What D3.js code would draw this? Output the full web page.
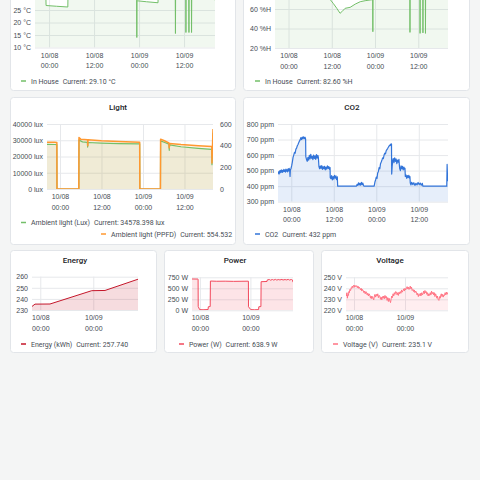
<!DOCTYPE html>
<html>
<head>
<meta charset="utf-8">
<script src="https://cdn.jsdelivr.net/npm/d3@7"></script>
<style>
  html, body { margin: 0; padding: 0; background: #f4f5f5; }
  svg { display: block; font-family: Roboto, "Noto Sans", sans-serif; }
</style>
</head>
<body>
<svg id="chart" width="480" height="480"></svg>
<script>
// all times are hours counted from 10/08 00:00
const temperature = [[-3.75,31.6],[-2.5,31.2],[-0.85,30.5],[-0.8,26.8],[2.0,26.5],[5.0,26.2],[5.05,31.5],[8,32.6],[12,33.2],[16,32.4],[20,31.2],[23.35,30.4],[23.4,14.0],[23.45,28.7],[26,28.3],[29.05,27.9],[29.1,31.0],[33.65,31.8],[33.7,15.6],[33.75,31.8],[36.45,31.5],[36.5,16.0],[36.55,31.5],[37.25,31.3],[37.3,16.0],[37.35,31.3],[37.95,31.0],[38.0,16.0],[38.05,31.0],[41,30.2],[44.25,29.1]];

const humidity = [[-3.75,84],[0,86],[4,88],[8,85],[11,76],[11.5,70],[12.4,65.8],[13.4,60.7],[14.3,55.6],[14.8,57.2],[15.7,60.7],[17.1,61.7],[18.5,65],[19.9,67.5],[21.25,68.5],[23.1,69.5],[23.35,70],[23.4,36.7],[23.45,76],[27,82],[30,84],[33.65,83],[33.7,36],[33.75,83],[36.45,84],[36.5,35],[36.55,84],[37.25,84],[37.3,35.5],[37.35,84],[37.95,84],[38.0,35],[38.05,84],[41,83],[44.25,82.6]];

const lux = [[-3.75,27500],[-1.5,27400],[-0.9,27300],[-0.86,0],[5.45,0],[5.5,30200],[6.5,29000],[7.9,28700],[8.0,25800],[8.1,28600],[12,28200],[17,27900],[23.05,27800],[23.1,0],[29.05,0],[29.1,29600],[30.5,28500],[31.5,27600],[31.6,23800],[31.7,27200],[35,26000],[40,25000],[43.9,24400],[43.95,15000],[44.25,34578.398]];

const ppfd = [[-3.75,432],[-1.5,431],[-0.9,430],[-0.86,0],[5.45,0],[5.5,475],[6.0,460],[8.0,455],[8.05,400],[8.1,455],[12,445],[17,438],[23.05,432],[23.1,0],[29.05,0],[29.1,460],[30.2,445],[31.5,425],[31.6,380],[31.7,420],[35,410],[40,400],[43.9,392],[43.95,240],[44.25,554.532]];

const co2 = [[-3.75,480],[-3.6,492],[-3.45,478],[-3.3,498],[-3.15,486],[-3.0,502],[-2.85,490],[-2.7,505],[-2.55,488],[-2.4,500],[-2.25,493],[-2.1,508],[-1.95,495],[-1.8,503],[-1.65,490],[-1.5,510],[-1.35,497],[-1.2,505],[-1.05,492],[-0.9,512],[-0.75,498],[-0.6,515],[-0.45,500],[-0.35,462],[-0.25,505],[-0.1,512],
  [0.1,530],[0.3,555],[0.5,585],[0.7,600],[0.9,618],[1.1,612],[1.3,638],[1.5,645],[1.7,660],[1.9,668],[2.1,680],[2.3,690],[2.5,698],[2.7,712],[2.9,700],[3.1,716],[3.3,705],[3.5,718],[3.7,706],[3.9,714],[4.05,702],
  [4.1,590],[4.3,572],[4.5,560],[4.7,585],[4.9,568],[5.1,598],[5.3,575],[5.5,605],[5.7,580],[5.9,592],[6.1,570],[6.3,600],[6.5,578],[6.7,595],[6.9,572],[7.1,603],[7.3,580],[7.5,598],[7.65,585],
  [7.8,528],[8.0,512],[8.2,530],[8.4,515],[8.6,532],[8.8,508],[9.0,525],[9.2,512],[9.4,528],[9.6,505],[9.8,522],[10.0,510],[10.2,530],[10.4,514],[10.6,526],[10.8,508],[10.95,520],
  [11.0,455],[11.2,448],[11.4,468],[11.6,440],[11.8,462],[12.0,445],[12.2,470],[12.4,452],[12.6,466],[12.8,442],[13.0,460],
  [13.1,400],[18.4,400],[18.6,412],[18.8,405],[19.0,422],[19.2,408],[19.4,418],[19.6,406],[19.8,425],[20.0,410],[20.2,420],[20.4,404],[20.55,400],[23.4,400],
  [23.6,425],[23.8,440],[24.0,458],[24.2,450],[24.4,485],[24.6,495],[24.8,520],[25.0,512],[25.2,545],[25.4,555],[25.6,568],[25.8,582],[26.0,578],[26.2,600],[26.4,612],[26.6,608],[26.8,628],[27.0,635],[27.2,642],[27.4,650],[27.6,658],[27.8,662],[28.0,670],[28.2,660],[28.3,672],
  [28.35,478],[28.5,530],[28.65,565],[28.8,578],[29.0,552],[29.2,582],[29.4,560],[29.6,575],[29.8,545],[30.0,568],[30.2,555],[30.4,572],[30.5,540],
  [30.6,515],[30.8,500],[31.0,530],[31.2,512],[31.4,528],[31.6,505],[31.8,522],[32.0,508],[32.1,515],
  [32.2,462],[32.4,472],[32.6,450],[32.8,468],[33.0,455],[33.2,470],[33.4,452],[33.5,462],
  [33.6,420],[33.8,408],[34.0,425],[34.3,410],[34.6,422],[34.9,405],[35.2,418],[35.5,408],[35.8,424],[36.1,410],[36.4,420],[36.7,406],[37.0,418],[37.15,400],
  [43.9,400],[44.0,540],[44.1,470],[44.25,432]];

const energy = [[-3.75,233.2],[-2.4,235.3],[4.4,235.4],[23.3,247.4],[29.3,247.6],[44.25,257.74]];

const power = [[-3.75,712],[-1.0,710],[-0.85,705],[-0.8,85],[-0.1,15],[1.5,12],[3.9,18],[4.0,80],[4.9,85],[5.0,665],[8,660],[12,662],[16,658],[20,660],[23.05,662],[23.1,80],[24.2,15],[26,12],[27.9,16],[28.0,80],[29.0,85],[29.1,650],[31.9,655],[32.0,690],[33,700],[33.5,685],[34.5,700],[35,688],[36,702],[36.5,688],[37.5,700],[38,690],[39,702],[39.5,688],[40.5,700],[41,690],[42,702],[42.5,688],[43.5,700],[44.0,690],[44.25,638.9]];

const voltage = [[-3.75,235.5],[-3.5,233],[-3.3,236],[-3.1,231],[-2.9,234],[-2.6,233.5],[-2.4,237],[-2.2,236],[-1.9,239],[-1.6,238],[-1.3,240.5],[-1.1,240],[-0.8,242],[-0.5,240.5],[-0.3,241.5],[0.0,243],[0.3,241],[0.6,242.5],[0.9,241.5],[1.25,242.4],[1.6,240.5],[1.9,242],[2.2,240],[2.5,241],[2.8,240],[3.1,238.5],[3.4,240],[3.7,237.5],[4.0,239],[4.35,238],[4.7,236],[5.0,237.5],[5.3,235],[5.6,237],[5.9,236.5],[6.2,234],[6.5,235.5],[6.8,233],[7.1,235],[7.5,233.5],[7.8,231],[8.1,233],[8.4,230.5],[8.7,232.5],[9.0,231],[9.3,229.5],[9.6,233],[9.9,234.5],[10.2,232],[10.6,234.5],[10.9,233],[11.2,235],[11.5,231.5],[11.9,233.5],[12.2,232.5],[12.5,230],[12.8,232],[13.1,229.5],[13.4,232.5],[13.7,231],[14.0,233],[14.3,230.5],[14.6,233.5],[15.0,231],[15.3,232.5],[15.6,229],[15.9,231.5],[16.2,228],[16.5,231],[16.9,228.5],[17.2,227],[17.5,230.5],[17.8,233],[18.1,231.5],[18.4,235],[18.7,233],[19.0,236],[19.3,234.5],[19.6,237],[20.0,236.5],[20.3,234],[20.6,236],[20.9,233.5],[21.2,236.5],[21.5,235],[21.8,237],[22.1,235.5],[22.4,238.5],[22.7,236.5],[23.1,238],[23.4,239.5],[23.7,237.5],[24.0,240],[24.3,238.5],[24.7,240],[25.0,241.5],[25.3,239.5],[25.6,241],[25.9,239],[26.2,240.5],[26.5,242],[26.8,239.5],[27.1,241],[27.4,238],[27.8,239],[28.1,237],[28.4,238.5],[28.7,236],[29.0,237.5],[29.4,236.5],[29.7,234],[30.0,235.5],[30.3,232.5],[30.6,234.5],[30.9,233.5],[31.2,235.5],[31.5,233],[31.9,236],[32.2,234],[32.5,235],[32.8,237.5],[33.1,235],[33.4,238],[33.7,236],[34.0,237],[34.3,234.5],[34.6,236],[34.9,233],[35.2,235],[35.6,233.5],[35.9,236],[36.2,234],[36.5,237.5],[36.8,235],[37.2,236.5],[37.5,234],[37.8,236],[38.1,232.5],[38.4,235],[38.7,233.5],[39.0,231],[39.3,233],[39.6,230],[39.95,229],[40.3,232.5],[40.6,231],[40.9,234],[41.1,235],[41.4,232.5],[41.7,234.5],[42.0,232],[42.3,234],[42.6,233.5],[42.9,236],[43.2,234],[43.5,236.5],[43.8,234.5],[44.0,236],[44.25,235.1]];

const tempTicks = [10, 15, 20, 25, 30, 35, 40];
const humidityTicks = [20, 40, 60, 80, 100];
const luxTicks = [0, 10000, 20000, 30000, 40000];
const ppfdTicks = [0, 200, 400, 600];
const co2Ticks = [300, 400, 500, 600, 700, 800];
const energyTicks = [230, 240, 250, 260];
const powerTicks = [0, 250, 500, 750];
const voltageTicks = [220, 230, 240, 250];

const GRID = "#e6e8eb", TEXT = "#464c54";
const svg = d3.select("#chart");
const t0 = new Date(2020, 9, 8, 0, 0);
const toDate = h => new Date(t0.getTime() + h * 3600e3);
const timeDomain = [toDate(-3.75), toDate(44.25)];
const fmtDay = d3.timeFormat("%m/%d"), fmtHour = d3.timeFormat("%H:%M");

svg.append("rect").attr("width", 480).attr("height", 480).attr("fill", "#f4f5f5");

// the page is scrolled: the top row starts above the window
const panels = [
  {title: "Temperature", titleX: 120, box: [10, -57, 236, 91], plot: [35, -27.5, 215, 47.5],
   yDomain: [10, 40], yTicks: tempTicks, yFmt: d => d + " °C", xEvery: 12,
   series: [{data: temperature, color: "#73BF69", fill: 0.1, width: 1}],
   legend: [{x: 21, y: 81, color: "#73BF69", name: "In House", value: "29.10 °C"}]},
  {title: "Humidity", titleX: 352, box: [243, -57, 470, 91], plot: [275, -30, 448, 48],
   yDomain: [20, 100], yTicks: humidityTicks, yFmt: d => d + " %H", xEvery: 12,
   series: [{data: humidity, color: "#73BF69", fill: 0.1, width: 1}],
   legend: [{x: 255, y: 81, color: "#73BF69", name: "In House", value: "82.60 %H"}]},
  {title: "Light", titleX: 118, box: [10, 97, 236, 245], plot: [47, 124, 213, 189],
   yDomain: [0, 40000], yTicks: luxTicks, yFmt: d => d + " lux", xEvery: 12,
   y2Domain: [0, 600], y2Ticks: ppfdTicks,
   series: [{data: lux, color: "#73BF69", fill: 0.12, width: 1.2},
            {data: ppfd, color: "#FF9830", fill: 0.12, width: 1.5, right: true}],
   legend: [{x: 21, y: 222.5, color: "#73BF69", name: "Ambient light (Lux)", value: "34578.398 lux"},
            {x: 101, y: 234, color: "#FF9830", name: "Ambient light (PPFD)", value: "554.532"}]},
  {title: "CO2", titleX: 352, box: [243, 97, 470, 245], plot: [278, 124, 448, 201.7],
   yDomain: [300, 800], yTicks: co2Ticks, yFmt: d => d + " ppm", xEvery: 12,
   series: [{data: co2, color: "#3274D9", fill: 0.12, width: 1.2}],
   legend: [{x: 255, y: 234, color: "#3274D9", name: "CO2", value: "432 ppm"}]},
  {title: "Energy", titleX: 75, box: [10, 250, 157, 353], plot: [32, 276.7, 138, 310],
   yDomain: [230, 260], yTicks: energyTicks, yFmt: d => d, xEvery: 24,
   series: [{data: energy, color: "#C4162A", fill: 0.15, width: 1}],
   legend: [{x: 21, y: 344, color: "#C4162A", name: "Energy (kWh)", value: "257.740"}]},
  {title: "Power", titleX: 235, box: [164, 250, 314, 353], plot: [192, 277.3, 293, 310.3],
   yDomain: [0, 750], yTicks: powerTicks, yFmt: d => d + " W", xEvery: 24,
   series: [{data: power, color: "#F2495C", fill: 0.15, width: 1}],
   legend: [{x: 179, y: 344, color: "#F2495C", name: "Power (W)", value: "638.9 W"}]},
  {title: "Voltage", titleX: 390, box: [321, 250, 469, 353], plot: [346, 277.3, 448, 310.3],
   yDomain: [220, 250], yTicks: voltageTicks, yFmt: d => d + " V", xEvery: 24,
   series: [{data: voltage, color: "#FF7383", fill: 0.12, width: 1}],
   legend: [{x: 333, y: 344, color: "#FF7383", name: "Voltage (V)", value: "235.1 V"}]}
];

panels.forEach((p, i) => {
  const g = svg.append("g");
  const [bl, bt, br, bb] = p.box;
  g.append("rect")
    .attr("x", bl + 0.5).attr("y", bt + 0.5)
    .attr("width", br - bl - 1).attr("height", bb - bt - 1)
    .attr("rx", 3).attr("fill", "#fff").attr("stroke", "#e2e5e9");
  // titles of the scrolled-away row are not in view
  if (bt + 13 > 0) {
    g.append("text")
      .attr("x", p.titleX).attr("y", bt + 13)
      .attr("text-anchor", "middle").attr("font-size", 8).attr("font-weight", 500)
      .attr("fill", "#202226").text(p.title);
  }

  const [l, t, r, b] = p.plot;
  const x = d3.scaleTime().domain(timeDomain).range([l, r]);
  const y = d3.scaleLinear().domain(p.yDomain).range([b, t]);
  const y2 = p.y2Domain ? d3.scaleLinear().domain(p.y2Domain).range([b, t]) : null;
  const xTicks = d3.timeHour.every(p.xEvery).range(timeDomain[0], timeDomain[1]);
  const visTicks = p.yTicks.filter(v => y(v) > 5);

  // grid
  g.append("g").attr("transform", `translate(0,${b})`)
    .call(d3.axisBottom(x).tickValues(xTicks).tickSize(-(b - t)).tickFormat(""))
    .call(s => s.select(".domain").remove())
    .selectAll("line").attr("stroke", GRID);
  g.append("g").attr("transform", `translate(${l},0)`)
    .call(d3.axisLeft(y).tickValues(p.yTicks).tickSize(-(r - l)).tickFormat(""))
    .call(s => s.select(".domain").remove())
    .selectAll("line").attr("stroke", GRID);

  // series
  g.append("clipPath").attr("id", "clip" + i)
    .append("rect").attr("x", l).attr("y", t).attr("width", r - l).attr("height", b - t);
  const plot = g.append("g").attr("clip-path", `url(#clip${i})`);
  p.series.forEach(s => {
    const ys = s.right ? y2 : y;
    const area = d3.area().x(d => x(toDate(d[0]))).y0(b).y1(d => ys(d[1]));
    plot.append("path").attr("d", area(s.data))
      .attr("fill", s.color).attr("fill-opacity", s.fill);
  });
  p.series.forEach(s => {
    const ys = s.right ? y2 : y;
    const line = d3.line().x(d => x(toDate(d[0]))).y(d => ys(d[1]));
    plot.append("path").attr("d", line(s.data))
      .attr("fill", "none").attr("stroke", s.color).attr("stroke-width", s.width)
      .attr("stroke-linejoin", "round");
  });

  // axes labels
  const yAx = g.append("g").attr("transform", `translate(${l},0)`)
    .call(d3.axisLeft(y).tickValues(visTicks).tickSize(0).tickPadding(4).tickFormat(p.yFmt));
  yAx.select(".domain").remove();
  yAx.selectAll("text").attr("font-size", 7).attr("fill", TEXT).attr("font-family", null);
  if (y2) {
    const y2Ax = g.append("g").attr("transform", `translate(${r},0)`)
      .call(d3.axisRight(y2).tickValues(p.y2Ticks).tickSize(0).tickPadding(7));
    y2Ax.select(".domain").remove();
    y2Ax.selectAll("text").attr("font-size", 7).attr("fill", TEXT).attr("font-family", null);
  }
  const xAx = g.append("g").attr("transform", `translate(0,${b})`)
    .call(d3.axisBottom(x).tickValues(xTicks).tickSize(0));
  xAx.select(".domain").remove();
  xAx.selectAll("text").each(function(d) {
    const txt = d3.select(this).text(null).attr("dy", null).attr("y", null)
      .attr("font-size", 7).attr("fill", TEXT).attr("font-family", null);
    txt.append("tspan").attr("x", 0).attr("y", 10).text(fmtDay(d));
    txt.append("tspan").attr("x", 0).attr("y", 20.5).text(fmtHour(d));
  });

  // legend
  p.legend.forEach(it => {
    g.append("line").attr("x1", it.x).attr("x2", it.x + 5)
      .attr("y1", it.y).attr("y2", it.y)
      .attr("stroke", it.color).attr("stroke-width", 1.5);
    const txt = g.append("text").attr("x", it.x + 10).attr("y", it.y + 2.5)
      .attr("font-size", 7).attr("fill", TEXT);
    txt.append("tspan").text(it.name);
    txt.append("tspan").attr("dx", 4).text("Current: " + it.value);
  });
});
</script>
</body>
</html>
